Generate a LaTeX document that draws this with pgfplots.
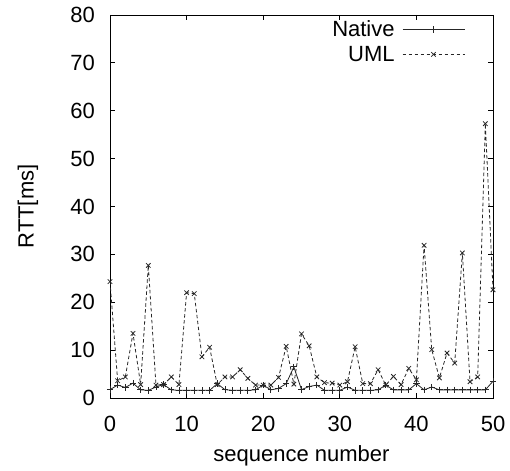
\documentclass[border=0pt]{standalone}
\usepackage{pgfplots}
\pgfplotsset{compat=1.18}
\usetikzlibrary{calc}
\usepackage{fontspec}
\setmainfont{Liberation Sans}

\pgfplotstableread{
x y
0 1.75
1 2.7
2 2.2
3 3.1
4 1.7
5 1.6
6 2.3
7 2.8
8 1.7
9 1.6
10 1.6
11 1.6
12 1.6
13 1.6
14 3.0
15 1.75
16 1.6
17 1.6
18 1.6
19 1.7
20 2.7
21 1.7
22 2.0
23 3.0
24 6.5
25 1.75
26 2.4
27 2.7
28 1.6
29 1.6
30 1.6
31 2.3
32 1.6
33 1.6
34 1.6
35 1.7
36 2.7
37 1.7
38 1.7
39 1.7
40 3.0
41 1.7
42 2.3
43 1.7
44 1.7
45 1.7
46 1.7
47 1.7
48 1.7
49 1.7
50 3.5
}\native

\pgfplotstableread{
x y
0 24.3
1 3.6
2 4.4
3 13.5
4 2.8
5 27.7
6 2.7
7 2.8
8 4.4
9 2.8
10 22.0
11 21.8
12 8.6
13 10.6
14 2.8
15 4.4
16 4.4
17 5.9
18 4.1
19 2.7
20 2.7
21 2.7
22 4.3
23 10.8
24 2.9
25 13.4
26 10.9
27 4.4
28 3.2
29 3.1
30 2.7
31 3.4
32 10.7
33 3.0
34 3.0
35 5.9
36 2.7
37 4.5
38 2.8
39 6.2
40 3.8
41 31.9
42 10.1
43 4.2
44 9.4
45 7.3
46 30.3
47 3.4
48 4.4
49 57.3
50 22.6
}\uml

\begin{document}
\begin{tikzpicture}
\begin{axis}[
    name=ax,
    scale only axis,
    width=383bp, height=383bp,
    xmin=0, xmax=50, ymin=0, ymax=80,
    xtick={0,10,...,50}, ytick={0,10,...,80},
    tick align=inside,
    major tick length=5bp,
    axis line style={line width=0.9bp},
    every tick/.style={black, line width=0.9bp},
    /pgf/number format/assume math mode=true,
    tick label style={font=\fontsize{22bp}{26bp}\selectfont, inner sep=0pt},
    yticklabel style={xshift=-15bp},
    xticklabel style={yshift=-18bp},
    xlabel={sequence number},
    ylabel={RTT[ms]},
    label style={font=\fontsize{22bp}{26bp}\selectfont},
    xlabel style={at={(axis description cs:0.5,-0.166)}, anchor=base},
    ylabel style={at={(axis description cs:-0.214,0.5)}, anchor=center},
    legend plot pos=right,
    legend cell align=right,
    legend style={draw=none, fill=none,
        at={(rel axis cs:0.935,0.995)}, anchor=north east,
        font=\fontsize{22bp}{26bp}\selectfont,
        nodes={inner sep=1.5bp}, column sep=6bp, row sep=5bp},
    legend image code/.code={
        \draw[mark repeat=2, mark phase=2, #1]
        plot coordinates {(0bp,0bp) (31bp,0bp) (62bp,0bp)};
    },
]
\addplot[black!85, line width=0.8bp, mark=+, mark size=3.2bp,
    mark options={solid}] table {\native};
\addlegendentry{Native}
\addplot[black!85, line width=0.8bp, dash pattern=on 3.5bp off 2.5bp,
    mark=x, mark size=3.2bp, mark options={solid}] table {\uml};
\addlegendentry{UML}
\end{axis}
\pgfresetboundingbox
\path (ax.south west) ++(-110bp,-72bp) rectangle ($(ax.north east)+(17bp,15bp)$);
\end{tikzpicture}
\end{document}
